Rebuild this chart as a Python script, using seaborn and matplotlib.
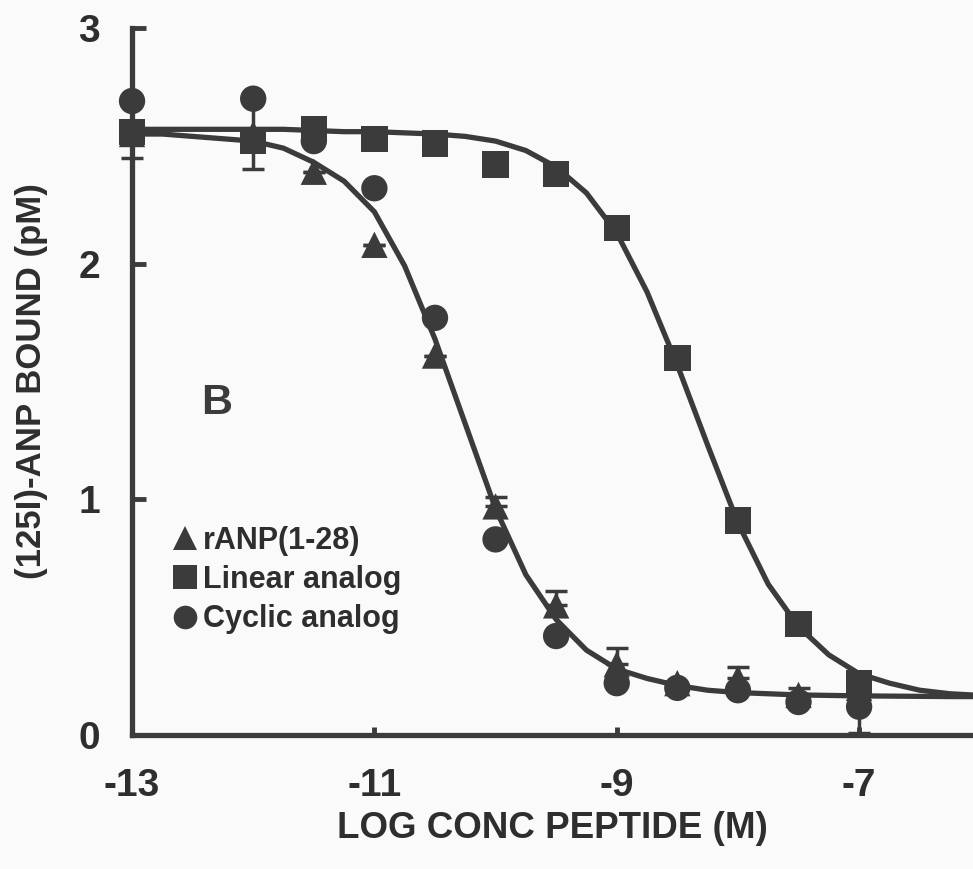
import numpy as np
import pandas as pd
import matplotlib
matplotlib.use("Agg")
import matplotlib.pyplot as plt
from matplotlib.lines import Line2D
import seaborn as sns

# ---- data ----
log_conc = [-13, -12, -11.5, -11, -10.5, -10, -9.5, -9, -8.5, -8, -7.5, -7]
ranp = [2.55, 2.55, 2.39, 2.08, 1.61, 0.97, 0.55, 0.30, 0.22, 0.24, 0.17, 0.20]
linear = [2.56, 2.52, 2.57, 2.53, 2.51, 2.42, 2.38, 2.15, 1.60, 0.91, 0.47, 0.22]
cyclic = [2.69, 2.70, 2.52, 2.32, 1.77, 0.83, 0.42, 0.22, 0.20, 0.19, 0.14, 0.12]

# asymmetric error bars (lower, upper)
ranp_err_lo = [0, 0, 0, 0, 0, 0, 0, 0, 0, 0, 0, 0]
ranp_err_hi = [0, 0, 0, 0, 0, 0.04, 0.06, 0.07, 0, 0.05, 0.03, 0]
linear_err_lo = [0.11, 0.12, 0, 0, 0, 0, 0, 0, 0, 0, 0, 0]
linear_err_hi = [0, 0, 0, 0, 0, 0, 0, 0, 0, 0, 0, 0]
cyclic_err_lo = [0, 0.15, 0, 0, 0, 0, 0, 0, 0, 0, 0, 0.11]
cyclic_err_hi = [0, 0, 0, 0, 0, 0, 0, 0, 0, 0, 0, 0]

# fitted curves as drawn in the reference (read at 0.25 log-unit steps)
curve_x = [-13, -12.75, -12.5, -12.25, -12, -11.75, -11.5, -11.25, -11, -10.75,
           -10.5, -10.25, -10, -9.75, -9.5, -9.25, -9, -8.75, -8.5, -8.25,
           -8, -7.75, -7.5, -7.25, -7, -6.75, -6.5, -6.25, -6]
fit_low = [2.55, 2.55, 2.54, 2.53, 2.52, 2.49, 2.43, 2.35, 2.22, 1.99,
           1.68, 1.32, 0.96, 0.68, 0.49, 0.36, 0.28, 0.24, 0.21, 0.19,
           0.18, 0.175, 0.17, 0.168, 0.166, 0.165, 0.164, 0.163, 0.163]
fit_high = [2.57, 2.57, 2.57, 2.57, 2.57, 2.57, 2.565, 2.56, 2.56, 2.555,
            2.55, 2.54, 2.52, 2.48, 2.41, 2.30, 2.13, 1.88, 1.57, 1.23,
            0.90, 0.64, 0.46, 0.34, 0.26, 0.22, 0.19, 0.175, 0.168]

series_names = ["rANP(1-28)", "Linear analog", "Cyclic analog"]
x_ticks = [-13, -11, -9, -7]
y_ticks = [0, 1, 2, 3]
x_label = "LOG CONC PEPTIDE (M)"
y_label = "(125I)-ANP BOUND (pM)"
panel_label = "B"

# ---- styling ----
sns.set_theme(style="ticks")
plt.rcParams["font.family"] = ["Liberation Sans", "DejaVu Sans"]
plt.rcParams["font.weight"] = "bold"
ink = "#3b3b3b"
txt = "#2e2e2e"
bg = "#fafafa"

fig = plt.figure(figsize=(9.73, 8.69), dpi=100, facecolor=bg)
ax = fig.add_axes([0.1357, 0.1542, 0.8643, 0.8136], facecolor=bg)

curves = pd.DataFrame({
    "x": curve_x * 2,
    "y": fit_low + fit_high,
    "fit": ["low"] * len(curve_x) + ["high"] * len(curve_x),
})
sns.lineplot(data=curves, x="x", y="y", units="fit", estimator=None,
             color=ink, lw=3.8, ax=ax, legend=False, zorder=2)

pts = pd.DataFrame({
    "x": log_conc * 3,
    "y": ranp + linear + cyclic,
    "series": [series_names[0]] * len(log_conc) + [series_names[1]] * len(log_conc)
              + [series_names[2]] * len(log_conc),
})
markers = {series_names[0]: "^", series_names[1]: "s", series_names[2]: "o"}
sns.scatterplot(data=pts, x="x", y="y", style="series", markers=markers,
                color=ink, s=360, linewidth=0, ax=ax, legend=False, zorder=3,
                clip_on=False)

for vals, lo, hi in [(ranp, ranp_err_lo, ranp_err_hi),
                     (linear, linear_err_lo, linear_err_hi),
                     (cyclic, cyclic_err_lo, cyclic_err_hi)]:
    ax.errorbar(log_conc, vals, yerr=[lo, hi], fmt="none", ecolor=ink,
                elinewidth=2.5, capsize=8, capthick=2.5, zorder=2.5,
                clip_on=False)

ax.set_xlim(-13, -6.06)
ax.set_ylim(0, 3)
ax.set_xticks(x_ticks)
ax.set_yticks(y_ticks)
ax.set_xticklabels([str(t) for t in x_ticks])
ax.set_yticklabels([str(t) for t in y_ticks])

for side in ["top", "right"]:
    ax.spines[side].set_visible(False)
for side in ["left", "bottom"]:
    ax.spines[side].set_linewidth(3.8)
    ax.spines[side].set_color(ink)

ax.tick_params(axis="x", direction="in", length=6, width=3.5, color=ink,
               pad=24, labelsize=28, labelcolor=txt)
ax.tick_params(axis="y", direction="in", length=10, width=3.5, color=ink,
               pad=23, labelsize=28, labelcolor=txt)
for lab in ax.get_xticklabels() + ax.get_yticklabels():
    lab.set_fontweight("bold")

ax.set_xlabel(x_label, fontsize=26.5, fontweight="bold", color=txt, labelpad=5)
ax.set_ylabel(y_label, fontsize=25, fontweight="bold", color=txt, labelpad=22)

ax.text(-12.30, 1.41, panel_label, fontsize=31, fontweight="bold", color=ink,
        ha="center", va="center")

handles = [Line2D([], [], marker=markers[n], color=ink, linestyle="none",
                  markersize=17, markeredgewidth=0) for n in series_names]
leg = ax.legend(handles, series_names, loc="upper left",
                bbox_to_anchor=(174 / 973, 1 - 526 / 869),
                bbox_transform=fig.transFigure, frameon=False,
                prop={"size": 22, "weight": "bold"}, handlelength=0.7,
                handletextpad=0.25, labelspacing=0.3, borderpad=0,
                borderaxespad=0)
for t in leg.get_texts():
    t.set_color(txt)

fig.savefig("out.png", dpi=100, facecolor=bg)
